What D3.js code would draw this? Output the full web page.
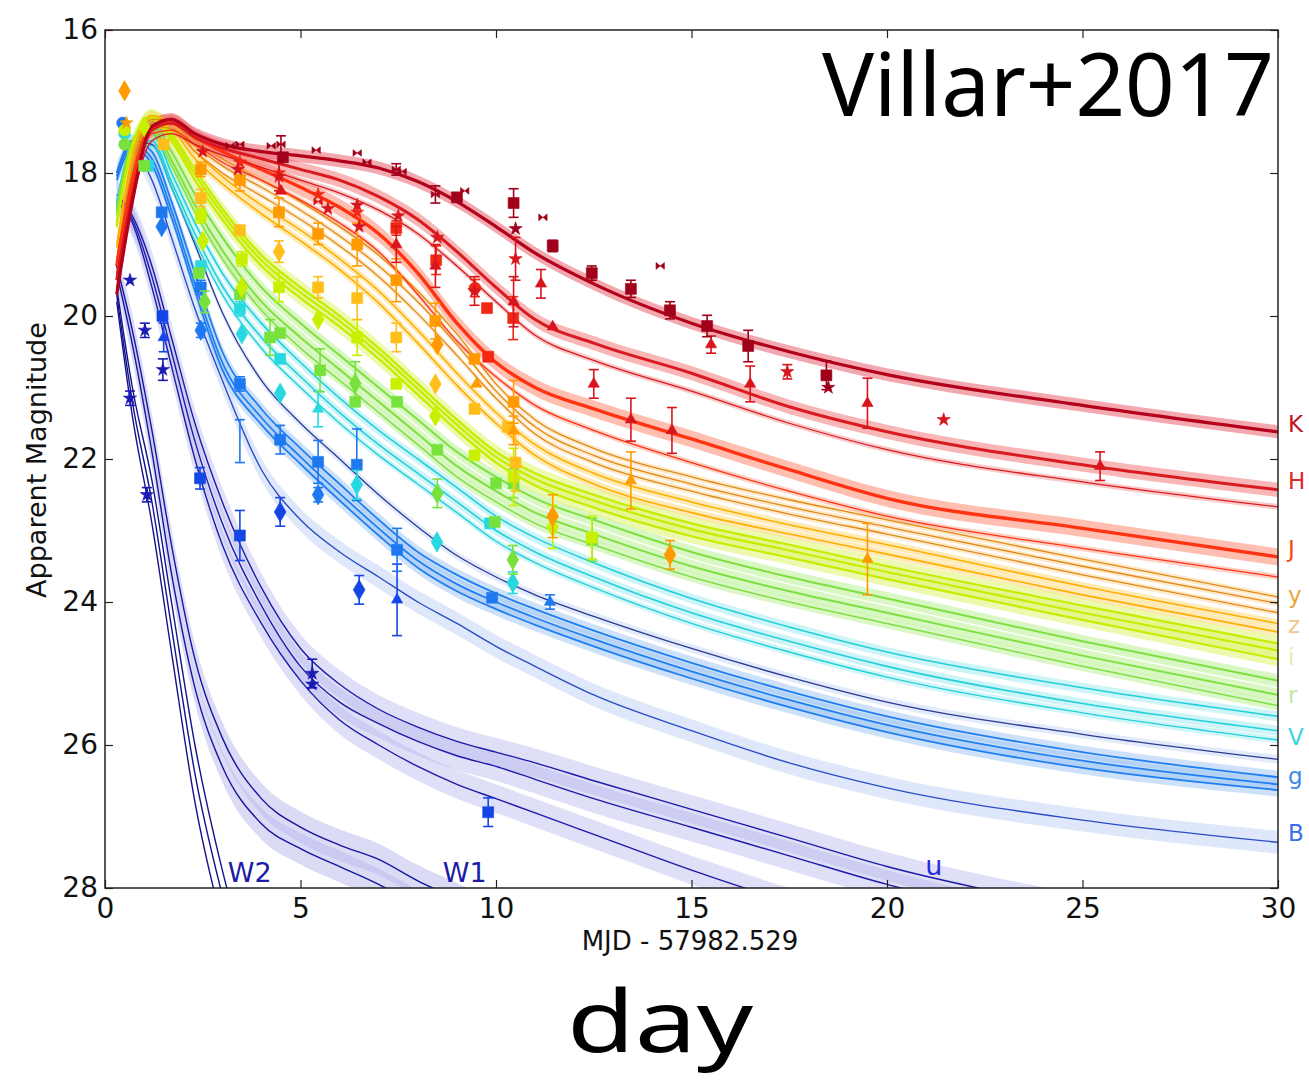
<!DOCTYPE html>
<html>
<head>
<meta charset="utf-8">
<script src="https://cdn.jsdelivr.net/npm/d3@7"></script>
<style>
  body { margin: 0; background: #fff; }
  svg { display: block; }
</style>
</head>
<body>
<svg id="chart" width="1309" height="1082"></svg>
<script>
// ---- model light curves: magnitude at each sample day (null = fainter than plotted) ----
const days = [0.3, 0.7, 1.2, 1.7, 2.3, 3, 4, 5, 6, 7, 8, 9, 10, 11, 12.5, 15, 17.5, 20, 25, 30];

const modelK1 = [19.7, 18.4, 17.35, 17.25, 17.45, 17.6, 17.7, 17.76, 17.83, 17.93, 18.12, 18.4, 18.75, 19.12, 19.55, 20.1, 20.5, 20.82, 21.25, 21.62];
const modelH1 = [19.5, 18.3, 17.4, 17.3, 17.5, 17.65, 17.8, 17.95, 18.1, 18.33, 18.65, 19.1, 19.6, 20.05, 20.38, 20.8, 21.27, 21.62, 22.08, 22.43];
const modelH2 = [19.6, 18.4, 17.55, 17.45, 17.6, 17.75, 17.92, 18.1, 18.28, 18.52, 18.85, 19.3, 19.8, 20.27, 20.62, 21.05, 21.5, 21.87, 22.32, 22.67];
const modelJ1 = [19.3, 18.1, 17.35, 17.3, 17.5, 17.7, 17.95, 18.2, 18.48, 18.85, 19.4, 20.1, 20.65, 21.0, 21.3, 21.72, 22.15, 22.55, 22.97, 23.37];
const modelJ2 = [19.4, 18.2, 17.45, 17.4, 17.6, 17.85, 18.1, 18.38, 18.7, 19.1, 19.7, 20.35, 20.85, 21.25, 21.6, 22.05, 22.45, 22.8, 23.25, 23.65];
const modely1 = [19.2, 17.9, 17.25, 17.25, 17.55, 17.8, 18.1, 18.4, 18.75, 19.15, 19.65, 20.25, 20.95, 21.45, 21.85, 22.25, 22.57, 22.85, 23.4, 23.93];
const modely2 = [19.25, 17.95, 17.3, 17.3, 17.62, 17.9, 18.2, 18.52, 18.88, 19.3, 19.8, 20.4, 21.05, 21.55, 21.95, 22.35, 22.67, 22.95, 23.5, 24.02];
const modely3 = [19.3, 18.0, 17.35, 17.38, 17.7, 18.0, 18.32, 18.65, 19.02, 19.45, 19.97, 20.55, 21.15, 21.65, 22.05, 22.45, 22.77, 23.05, 23.62, 24.15];
const modelz1 = [19.0, 17.75, 17.2, 17.3, 17.7, 18.05, 18.45, 18.8, 19.2, 19.65, 20.2, 20.8, 21.35, 21.8, 22.2, 22.6, 22.92, 23.2, 23.78, 24.3];
const modelz2 = [19.05, 17.8, 17.25, 17.38, 17.8, 18.15, 18.57, 18.95, 19.35, 19.82, 20.38, 20.97, 21.5, 21.95, 22.35, 22.75, 23.05, 23.33, 23.9, 24.42];
const modeli1 = [18.7, 17.6, 17.2, 17.45, 17.95, 18.5, 19.15, 19.6, 20.0, 20.45, 20.95, 21.45, 21.9, 22.2, 22.5, 22.9, 23.2, 23.5, 24.05, 24.58];
const modeli2 = [18.72, 17.62, 17.22, 17.5, 18.02, 18.57, 19.22, 19.67, 20.07, 20.52, 21.02, 21.52, 21.97, 22.28, 22.58, 22.98, 23.28, 23.58, 24.15, 24.68];
const modeli3 = [18.75, 17.65, 17.25, 17.55, 18.1, 18.65, 19.3, 19.75, 20.15, 20.6, 21.1, 21.6, 22.05, 22.37, 22.68, 23.08, 23.38, 23.68, 24.25, 24.8];
const modelr1 = [18.5, 17.55, 17.3, 17.7, 18.3, 18.9, 19.6, 20.1, 20.55, 21.0, 21.45, 21.9, 22.25, 22.55, 22.85, 23.3, 23.65, 23.95, 24.55, 25.1];
const modelr2 = [18.55, 17.6, 17.38, 17.82, 18.45, 19.08, 19.8, 20.3, 20.75, 21.2, 21.65, 22.1, 22.45, 22.75, 23.05, 23.5, 23.85, 24.15, 24.75, 25.3];
const modelr3 = [18.6, 17.65, 17.45, 17.9, 18.55, 19.2, 19.92, 20.45, 20.9, 21.35, 21.8, 22.25, 22.6, 22.9, 23.2, 23.65, 24.0, 24.3, 24.9, 25.45];
const modelV1 = [18.4, 17.6, 17.45, 18.0, 18.7, 19.4, 20.1, 20.65, 21.15, 21.6, 22.0, 22.4, 22.8, 23.1, 23.45, 23.95, 24.35, 24.7, 25.2, 25.6];
const modelV2 = [18.45, 17.65, 17.55, 18.12, 18.85, 19.58, 20.3, 20.85, 21.35, 21.8, 22.2, 22.6, 23.0, 23.3, 23.65, 24.15, 24.55, 24.9, 25.42, 25.8];
const modelV3 = [18.5, 17.7, 17.62, 18.2, 18.95, 19.7, 20.45, 21.0, 21.5, 21.95, 22.35, 22.75, 23.15, 23.45, 23.8, 24.3, 24.7, 25.05, 25.55, 25.93];
const modelg1 = [18.0, 17.55, 17.7, 18.4, 19.4, 20.5, 21.3, 21.85, 22.35, 22.85, 23.3, 23.62, 23.88, 24.1, 24.4, 24.85, 25.25, 25.6, 26.1, 26.45];
const modelg2 = [18.05, 17.6, 17.8, 18.52, 19.55, 20.65, 21.42, 21.97, 22.48, 22.97, 23.42, 23.75, 24.0, 24.22, 24.52, 24.97, 25.37, 25.72, 26.22, 26.55];
const modelg3 = [18.1, 17.65, 17.88, 18.62, 19.65, 20.75, 21.52, 22.07, 22.58, 23.07, 23.52, 23.85, 24.1, 24.32, 24.62, 25.07, 25.47, 25.82, 26.32, 26.63];
const modelg4 = [18.0, 17.55, 17.6, 18.2, 19.0, 19.95, 20.9, 21.5, 22.0, 22.5, 22.95, 23.35, 23.65, 23.9, 24.2, 24.65, 25.05, 25.4, 25.85, 26.2];
const modelB1 = [18.0, 17.7, 18.1, 18.9, 19.9, 20.9, 22.15, 22.85, 23.3, 23.65, 24.0, 24.3, 24.62, 24.9, 25.3, 25.8, 26.25, 26.6, 27.05, 27.36];
const modelu1 = [18.3, 18.6, 19.3, 20.3, 21.5, 22.6, 23.8, 24.65, 25.15, 25.5, 25.75, 25.95, 26.1, 26.25, 26.5, 26.9, 27.3, 27.7, 28.3, 28.8];
const modelu2 = [18.35, 18.65, 19.45, 20.5, 21.75, 22.9, 24.05, 24.9, 25.4, 25.7, 25.95, 26.15, 26.3, 26.48, 26.75, 27.15, 27.55, 27.95, 28.55, 29.0];
const modelu3 = [18.4, 18.7, 19.6, 20.7, 22.0, 23.2, 24.3, 25.1, 25.65, 26.0, 26.3, 26.55, 26.75, 26.95, 27.25, 27.75, 28.2, 28.6, 29.2, 29.7];
const modelW1a = [19.3, 20.2, 21.6, 23.2, 24.8, 25.9, 26.75, 27.15, 27.4, 27.6, 27.9, 28.15, 28.4, null, null, null, null, null, null, null];
const modelW1b = [19.4, 20.4, 21.9, 23.6, 25.2, 26.3, 27.1, 27.45, 27.7, 27.95, 28.25, null, null, null, null, null, null, null, null, null];
const modelW2a = [19.6, 21.0, 22.3, 24.0, 26.0, 27.75, 29.6, null, null, null, null, null, null, null, null, null, null, null, null, null];
const modelW2b = [19.7, 21.2, 22.6, 24.35, 26.4, 28.1, 29.9, null, null, null, null, null, null, null, null, null, null, null, null, null];
const modelW2c = [19.8, 21.4, 22.9, 24.7, 26.8, 28.5, 30.2, null, null, null, null, null, null, null, null, null, null, null, null, null];

// ---- photometry: [day, magnitude, error, marker] ----
const obsK = [[3.2,17.62,0,'x'],[3.45,17.6,0,'x'],[4.25,17.62,0,'x'],[4.5,17.6,0.12,'x'],[4.55,17.78,0,'sq'],[5.4,17.68,0,'x'],[6.45,17.72,0,'x'],[6.7,17.85,0,'x'],[7.45,17.95,0.08,'x'],[7.6,17.98,0,'x'],[8.45,18.3,0.12,'x'],[9.0,18.34,0,'sq'],[9.2,18.25,0,'x'],[10.45,18.42,0.2,'sq'],[10.5,18.78,0,'star'],[11.2,18.62,0,'x'],[11.45,19.02,0.08,'sq'],[12.45,19.4,0.1,'sq'],[13.45,19.62,0.12,'sq'],[14.2,19.3,0,'x'],[14.45,19.92,0.12,'sq'],[15.4,20.14,0.15,'sq'],[16.45,20.42,0.22,'sq'],[18.45,20.83,0.2,'sq'],[18.5,21.0,0,'star']];
const obsH = [[2.5,17.7,0,'star'],[3.4,17.95,0,'star'],[4.45,18.05,0.2,'star'],[4.5,18.25,0,'tri'],[5.45,18.4,0,'x'],[5.7,18.5,0,'star'],[6.45,18.45,0,'star'],[6.5,18.75,0,'star'],[7.45,19.0,0.25,'tri'],[7.5,18.6,0,'star'],[8.45,19.3,0.3,'tri'],[8.5,18.9,0,'star'],[9.45,19.65,0.2,'star'],[10.45,19.8,0.35,'tri'],[10.5,19.2,0.3,'star'],[11.15,19.55,0.2,'tri'],[11.45,20.15,0,'tri'],[12.5,20.95,0.2,'tri'],[13.45,21.45,0.3,'tri'],[14.5,21.6,0.32,'tri'],[15.5,20.4,0.12,'tri'],[16.5,20.95,0.25,'tri'],[17.45,20.78,0.1,'star'],[19.5,21.22,0.35,'tri'],[21.45,21.45,0,'star'],[25.45,22.1,0.2,'tri']];
const obsJ = [[3.45,17.85,0,'star'],[4.45,18.0,0,'star'],[5.45,18.3,0,'star'],[6.45,18.55,0,'star'],[7.45,18.77,0.1,'sq'],[8.47,19.22,0.2,'sq'],[9.46,19.61,0.12,'circle'],[9.77,19.89,0,'sq'],[9.8,20.57,0,'sq'],[10.44,20.03,0.3,'sq']];
const obsy = [[0.5,16.85,0,'diamond'],[0.55,17.3,0,'star'],[2.45,17.95,0.1,'sq'],[3.45,18.1,0.15,'sq'],[4.45,18.55,0.2,'sq'],[5.45,18.85,0.15,'sq'],[6.45,19.0,0.3,'sq'],[7.45,19.5,0.3,'sq'],[8.45,20.07,0.25,'sq'],[8.5,20.4,0,'diamond'],[9.45,20.6,0,'sq'],[9.5,20.95,0,'tri'],[10.45,21.2,0.3,'sq'],[10.45,21.6,0.2,'tri'],[11.45,22.8,0.3,'diamond'],[13.45,22.3,0.4,'tri'],[14.45,23.34,0.2,'diamond'],[19.5,23.4,0.5,'tri']];
const obsz = [[1.5,17.6,0,'sq'],[2.45,18.35,0.12,'sq'],[3.45,18.8,0,'sq'],[4.45,19.1,0.15,'diamond'],[5.45,19.6,0.15,'sq'],[6.45,19.75,0.3,'sq'],[7.45,20.3,0.2,'sq'],[8.45,20.95,0,'diamond'],[9.45,21.3,0,'sq'],[10.3,21.55,0,'sq'],[10.5,22.05,0.4,'sq']];
const obsi = [[0.5,17.4,0,'circle'],[1.0,17.35,0,'diamond'],[2.45,18.6,0.1,'sq'],[2.5,18.95,0,'diamond'],[3.5,19.2,0.1,'sq'],[3.5,19.6,0,'diamond'],[4.45,19.6,0.2,'sq'],[5.45,20.05,0,'diamond'],[6.45,20.3,0.25,'sq'],[7.45,20.95,0,'sq'],[8.45,21.4,0,'diamond'],[9.45,21.95,0,'sq'],[10.45,22.25,0.4,'sq'],[11.45,22.95,0.3,'diamond'],[12.45,23.1,0.3,'sq']];
const obsr = [[0.5,17.6,0,'circle'],[1.0,17.9,0,'sq'],[2.4,19.4,0,'sq'],[2.55,19.8,0.15,'diamond'],[3.45,19.7,0,'sq'],[4.22,20.3,0.25,'sq'],[4.48,20.24,0,'sq'],[5.5,20.76,0.3,'sq'],[6.4,20.94,0.3,'diamond'],[6.4,21.2,0,'sq'],[7.47,21.2,0,'sq'],[8.5,21.87,0,'sq'],[8.5,22.48,0.2,'diamond'],[9.97,22.88,0,'sq'],[10.43,23.41,0.2,'diamond'],[10.0,22.34,0,'sq'],[10.45,22.34,0.2,'sq'],[12.46,23.13,0.3,'sq']];
const obsV = [[0.5,17.45,0,'circle'],[1.1,17.9,0,'sq'],[2.45,19.3,0,'sq'],[3.45,19.9,0.1,'sq'],[3.5,20.25,0,'diamond'],[4.48,20.6,0,'sq'],[4.48,21.08,0,'diamond'],[5.45,21.3,0.25,'tri'],[6.44,22.36,0.2,'diamond'],[8.49,23.16,0,'diamond'],[10.43,23.73,0.15,'diamond'],[9.85,22.9,0,'sq']];
const obsg = [[0.45,17.3,0,'circle'],[1.45,18.55,0,'sq'],[1.45,18.75,0,'diamond'],[2.45,19.6,0.1,'sq'],[2.45,20.2,0.1,'diamond'],[3.45,20.95,0.1,'sq'],[3.45,21.75,0.3,'none'],[4.48,21.73,0.2,'sq'],[5.45,22.04,0.3,'sq'],[5.45,22.5,0.1,'diamond'],[6.44,22.08,0.5,'sq'],[7.47,23.27,0.3,'sq'],[9.9,23.94,0,'sq'],[11.38,24.0,0.1,'tri']];
const obsB = [[1.47,20.0,0,'sq'],[1.5,20.3,0.2,'tri'],[2.43,22.27,0.15,'sq'],[3.45,23.07,0.35,'sq'],[4.48,22.74,0.2,'diamond'],[6.5,23.83,0.2,'diamond'],[7.47,23.97,0.5,'tri'],[9.8,26.94,0.2,'sq']];
const obsu = [[0.64,19.5,0,'star'],[0.64,21.15,0.1,'star'],[1.02,20.2,0.1,'star'],[1.07,22.5,0.1,'star'],[1.48,20.75,0.15,'star'],[5.3,25.0,0.2,'star'],[5.3,25.15,0,'star']];

// ---- filter labels at the right edge and inside the axes ----
const edgeFilters = ['K', 'H', 'J', 'y', 'z', 'i', 'r', 'V', 'g', 'B'];
const edgeLabelMags = [21.5, 22.3, 23.25, 23.9, 24.32, 24.77, 25.29, 25.89, 26.43, 27.22];
const innerFilters = ['W2', 'W1', 'u'];
const innerLabelDays = [3.7, 9.2, 21.2];
const innerLabelMags = [27.78, 27.78, 27.68];

const xTicks = [0, 5, 10, 15, 20, 25, 30];
const yTicks = [16, 18, 20, 22, 24, 26, 28];

// ---- styling ----
const lineColor = {K:'#b3001b', H:'#d91a1f', J:'#ff3311', y:'#e08a14', z:'#ffae00', i:'#c6ec00', r:'#7ee040', V:'#22d0dc', g:'#1f7ff0', gd:'#2a3a96', B:'#2a4cc8', u:'#1c1ca8', W1:'#16169e', W2:'#12128c'};
const shadeColor = {K:'#e8606c', H:'#f27a7a', J:'#ff8a70', y:'#ffc880', z:'#ffd870', i:'#dff57a', r:'#b8f090', V:'#9ceaf0', g:'#9cc4f6', gd:'#b8cdf4', B:'#b8cdf4', u:'#b8b8ee', W1:'#b8b8ee', W2:'#c8c8f0'};
const markColor = {K:'#a0001a', H:'#d8141c', J:'#f02814', y:'#ff9a00', z:'#ffbe1a', i:'#c8f000', r:'#78e23c', V:'#28d8e0', g:'#1e78f0', B:'#1446e6', u:'#1a1ab4'};
const labelColor = {K:'#c0141e', H:'#e0282a', J:'#f24a18', y:'#e8a838', z:'#f0c888', i:'#e4eea6', r:'#c4e6a6', V:'#3cd4e0', g:'#3a8ae6', B:'#3a6ee6', W2:'#1c1ca8', W1:'#1c1ca8', u:'#2a2ae0'};

// model table: [values, style key, stroke width, shade half-width in mag, shade opacity]
const models = [
  [modelW2a,'W2',1.4,0,0],[modelW2b,'W2',1.4,0,0],[modelW2c,'W2',1.4,0,0],
  [modelW1a,'W1',1.4,0.22,0.5],[modelW1b,'W1',1.4,0.22,0.5],
  [modelu1,'u',1.4,0.2,0.45],[modelu2,'u',1.4,0.2,0.45],[modelu3,'u',1.4,0.2,0.45],
  [modelB1,'B',1.4,0.16,0.45],
  [modelg4,'gd',1.3,0.06,0.4],[modelg1,'g',1.8,0.09,0.5],[modelg2,'g',1.8,0.09,0.5],[modelg3,'g',1.8,0.09,0.5],
  [modelV3,'V',1.4,0.05,0.45],[modelV2,'V',1.6,0.07,0.5],[modelV1,'V',1.6,0.07,0.5],
  [modelr3,'r',1.5,0.07,0.5],[modelr2,'r',2,0.09,0.55],[modelr1,'r',2,0.09,0.55],
  [modeli3,'i',2.2,0.1,0.6],[modeli2,'i',2.2,0.1,0.6],[modeli1,'i',2.2,0.1,0.6],
  [modelz2,'z',1.6,0.06,0.5],[modelz1,'z',1.6,0.06,0.5],
  [modely3,'y',1.3,0.04,0.4],[modely2,'y',1.3,0.04,0.4],[modely1,'y',1.3,0.04,0.4],
  [modelJ2,'J',1.3,0.04,0.4],[modelJ1,'J',3.4,0.12,0.55],
  [modelH2,'H',1.3,0.04,0.4],[modelH1,'H',3,0.1,0.55],
  [modelK1,'K',3.2,0.09,0.55]
];
const observations = [['u',obsu],['B',obsB],['g',obsg],['V',obsV],['r',obsr],['i',obsi],['z',obsz],['y',obsy],['J',obsJ],['H',obsH],['K',obsK]];

// ---- drawing ----
const svg = d3.select('#chart');
const x = d3.scaleLinear().domain([0, 30]).range([105, 1278]);
const y = d3.scaleLinear().domain([16, 28]).range([30, 888]);

svg.append('defs').append('clipPath').attr('id', 'plotClip')
  .append('rect').attr('x', 105).attr('y', 30).attr('width', 1173).attr('height', 858);

const plot = svg.append('g').attr('clip-path', 'url(#plotClip)');

const line = d3.line()
  .defined(d => d[1] !== null)
  .x(d => x(d[0])).y(d => y(d[1]))
  .curve(d3.curveMonotoneX);
const area = d3.area()
  .defined(d => d[1] !== null)
  .x(d => x(d[0])).y0(d => y(d[1] - d[2])).y1(d => y(d[1] + d[2]))
  .curve(d3.curveMonotoneX);

// uncertainty shading
models.forEach(([vals, key, w, spread, op]) => {
  if (!spread) return;
  const pts = days.map((d, k) => [d, vals[k], spread]);
  plot.append('path').attr('d', area(pts))
    .attr('fill', shadeColor[key]).attr('fill-opacity', op).attr('stroke', 'none');
});
// model curves
models.forEach(([vals, key, w]) => {
  const pts = days.map((d, k) => [d, vals[k]]);
  plot.append('path').attr('d', line(pts))
    .attr('fill', 'none').attr('stroke', lineColor[key]).attr('stroke-width', w)
    .attr('stroke-linejoin', 'round');
});

// marker shapes
const bowtie = {
  draw(ctx, size) {
    const r = Math.sqrt(size) / 2;
    ctx.moveTo(-r, -r * 0.8); ctx.lineTo(r, r * 0.8); ctx.lineTo(r, -r * 0.8);
    ctx.lineTo(-r, r * 0.8); ctx.closePath();
  }
};
const shapeOf = {
  sq: [d3.symbolSquare, 120], diamond: [d3.symbolDiamond, 120], circle: [d3.symbolCircle, 110],
  star: [d3.symbolStar, 55], tri: [d3.symbolTriangle, 55], x: [bowtie, 70]
};

observations.forEach(([band, obs]) => {
  const g = plot.append('g').attr('fill', markColor[band]).attr('stroke', markColor[band]);
  obs.forEach(([d, m, e, shape]) => {
    const cx = x(d), cy = y(m);
    if (e > 0) {
      g.append('line').attr('x1', cx).attr('x2', cx).attr('y1', y(m - e)).attr('y2', y(m + e)).attr('stroke-width', 1.6);
      g.append('line').attr('x1', cx - 5).attr('x2', cx + 5).attr('y1', y(m - e)).attr('y2', y(m - e)).attr('stroke-width', 1.6);
      g.append('line').attr('x1', cx - 5).attr('x2', cx + 5).attr('y1', y(m + e)).attr('y2', y(m + e)).attr('stroke-width', 1.6);
    }
    if (shape === 'none') return;
    const [type, size] = shapeOf[shape];
    g.append('path').attr('d', d3.symbol().type(type).size(size)())
      .attr('transform', `translate(${cx},${cy})`).attr('stroke-width', 1).attr('stroke-opacity', 0.6);
  });
});

// labels for the ultraviolet filters inside the axes
innerFilters.forEach((f, k) => {
  svg.append('text').attr('x', x(innerLabelDays[k])).attr('y', y(innerLabelMags[k]))
    .attr('dy', '0.36em').attr('text-anchor', 'middle')
    .attr('font-family', 'DejaVu Sans, sans-serif').attr('font-size', 27)
    .attr('fill', labelColor[f]).text(f);
});

// frame
svg.append('rect').attr('x', 105).attr('y', 30).attr('width', 1173).attr('height', 858)
  .attr('fill', 'none').attr('stroke', '#222').attr('stroke-width', 1.5);

// axes with inward ticks
const tickFont = g => g.selectAll('text').attr('font-family', 'DejaVu Sans, sans-serif').attr('font-size', 28).attr('fill', '#111');
const axB = svg.append('g').attr('transform', 'translate(0,888)')
  .call(d3.axisBottom(x).tickValues(xTicks).tickFormat(d3.format('d')).tickSizeInner(-8).tickSizeOuter(0).tickPadding(6));
const axT = svg.append('g').attr('transform', 'translate(0,30)')
  .call(d3.axisTop(x).tickValues(xTicks).tickFormat('').tickSizeInner(-8).tickSizeOuter(0));
const axL = svg.append('g').attr('transform', 'translate(105,0)')
  .call(d3.axisLeft(y).tickValues(yTicks).tickFormat(d3.format('d')).tickSizeInner(-8).tickSizeOuter(0).tickPadding(7));
const axR = svg.append('g').attr('transform', 'translate(1278,0)')
  .call(d3.axisRight(y).tickValues(yTicks).tickFormat('').tickSizeInner(-8).tickSizeOuter(0));
[axB, axT, axL, axR].forEach(a => {
  a.select('.domain').remove();
  a.selectAll('line').attr('stroke', '#222').attr('stroke-width', 1.2);
  tickFont(a);
});
axB.selectAll('text').attr('dy', '0.85em');

// filter names beside the right edge
edgeFilters.forEach((f, k) => {
  svg.append('text').attr('x', 1288).attr('y', y(edgeLabelMags[k])).attr('dy', '0.36em')
    .attr('font-family', 'DejaVu Sans, sans-serif').attr('font-size', 23)
    .attr('fill', labelColor[f]).text(f);
});

// axis titles
svg.append('text').attr('x', 690).attr('y', 950).attr('text-anchor', 'middle')
  .attr('font-family', 'DejaVu Sans, sans-serif').attr('font-size', 26).attr('fill', '#111')
  .text('MJD - 57982.529');
svg.append('text').attr('transform', 'translate(46,460) rotate(-90)').attr('text-anchor', 'middle')
  .attr('font-family', 'DejaVu Sans, sans-serif').attr('font-size', 27).attr('fill', '#111')
  .text('Apparent Magnitude');

// annotations
svg.append('text').attr('x', 1274).attr('y', 116).attr('text-anchor', 'end')
  .attr('font-family', 'Noto Sans, sans-serif').attr('font-size', 88).attr('fill', '#000')
  .attr('textLength', 452).attr('lengthAdjust', 'spacingAndGlyphs')
  .text('Villar+2017');
svg.append('text').attr('x', 660).attr('y', 1052).attr('text-anchor', 'middle')
  .attr('font-family', 'Noto Sans, sans-serif').attr('font-size', 86).attr('fill', '#000')
  .attr('textLength', 186).attr('lengthAdjust', 'spacingAndGlyphs')
  .text('day');
</script>
</body>
</html>
